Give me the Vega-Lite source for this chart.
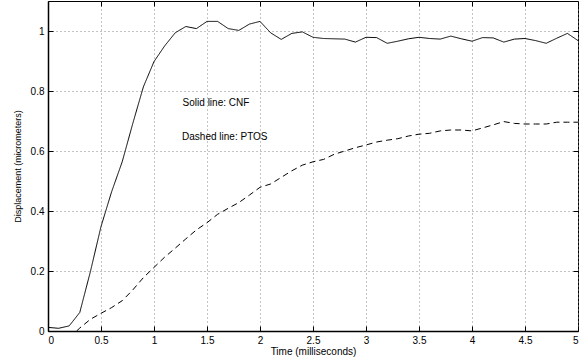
{
  "$schema": "https://vega.github.io/schema/vega-lite/v6.json",
  "width": 530,
  "height": 330,
  "autosize": {"type": "none"},
  "padding": {"left": 48, "top": 1, "right": 7, "bottom": 32},
  "background": "white",
  "config": {
    "view": {"stroke": "black", "strokeWidth": 1},
    "font": "Liberation Sans",
    "axis": {
      "labelFont": "Liberation Sans",
      "titleFont": "Liberation Sans",
      "labelFontSize": 10,
      "titleFontSize": 10,
      "titleFontWeight": "normal",
      "labelColor": "black",
      "titleColor": "black",
      "domainColor": "black",
      "domainWidth": 1.5,
      "tickColor": "black",
      "tickSize": -5,
      "tickWidth": 1,
      "labelPadding": 9,
      "gridColor": "#888888",
      "gridDash": [1, 3],
      "gridWidth": 1
    }
  },
  "datasets": {
    "curves": [
      {"t": 0.0, "d": 0.012, "series": "CNF"},
      {"t": 0.1, "d": 0.009, "series": "CNF"},
      {"t": 0.2, "d": 0.017, "series": "CNF"},
      {"t": 0.3, "d": 0.062, "series": "CNF"},
      {"t": 0.4, "d": 0.198, "series": "CNF"},
      {"t": 0.5, "d": 0.348, "series": "CNF"},
      {"t": 0.6, "d": 0.464, "series": "CNF"},
      {"t": 0.7, "d": 0.564, "series": "CNF"},
      {"t": 0.8, "d": 0.692, "series": "CNF"},
      {"t": 0.9, "d": 0.814, "series": "CNF"},
      {"t": 1.0, "d": 0.898, "series": "CNF"},
      {"t": 1.1, "d": 0.95, "series": "CNF"},
      {"t": 1.2, "d": 0.994, "series": "CNF"},
      {"t": 1.3, "d": 1.015, "series": "CNF"},
      {"t": 1.4, "d": 1.008, "series": "CNF"},
      {"t": 1.5, "d": 1.032, "series": "CNF"},
      {"t": 1.6, "d": 1.032, "series": "CNF"},
      {"t": 1.7, "d": 1.008, "series": "CNF"},
      {"t": 1.8, "d": 1.002, "series": "CNF"},
      {"t": 1.9, "d": 1.023, "series": "CNF"},
      {"t": 2.0, "d": 1.032, "series": "CNF"},
      {"t": 2.1, "d": 0.994, "series": "CNF"},
      {"t": 2.2, "d": 0.972, "series": "CNF"},
      {"t": 2.3, "d": 0.992, "series": "CNF"},
      {"t": 2.4, "d": 0.997, "series": "CNF"},
      {"t": 2.5, "d": 0.979, "series": "CNF"},
      {"t": 2.6, "d": 0.975, "series": "CNF"},
      {"t": 2.7, "d": 0.974, "series": "CNF"},
      {"t": 2.8, "d": 0.973, "series": "CNF"},
      {"t": 2.9, "d": 0.963, "series": "CNF"},
      {"t": 3.0, "d": 0.979, "series": "CNF"},
      {"t": 3.1, "d": 0.978, "series": "CNF"},
      {"t": 3.2, "d": 0.959, "series": "CNF"},
      {"t": 3.3, "d": 0.966, "series": "CNF"},
      {"t": 3.4, "d": 0.974, "series": "CNF"},
      {"t": 3.5, "d": 0.979, "series": "CNF"},
      {"t": 3.6, "d": 0.975, "series": "CNF"},
      {"t": 3.7, "d": 0.973, "series": "CNF"},
      {"t": 3.8, "d": 0.983, "series": "CNF"},
      {"t": 3.9, "d": 0.974, "series": "CNF"},
      {"t": 4.0, "d": 0.966, "series": "CNF"},
      {"t": 4.1, "d": 0.978, "series": "CNF"},
      {"t": 4.2, "d": 0.977, "series": "CNF"},
      {"t": 4.3, "d": 0.963, "series": "CNF"},
      {"t": 4.4, "d": 0.973, "series": "CNF"},
      {"t": 4.5, "d": 0.975, "series": "CNF"},
      {"t": 4.6, "d": 0.968, "series": "CNF"},
      {"t": 4.7, "d": 0.959, "series": "CNF"},
      {"t": 4.8, "d": 0.976, "series": "CNF"},
      {"t": 4.9, "d": 0.992, "series": "CNF"},
      {"t": 5.0, "d": 0.968, "series": "CNF"},
      {"t": 0.27, "d": 0.0, "series": "PTOS"},
      {"t": 0.3, "d": 0.01, "series": "PTOS"},
      {"t": 0.4, "d": 0.039, "series": "PTOS"},
      {"t": 0.5, "d": 0.059, "series": "PTOS"},
      {"t": 0.6, "d": 0.078, "series": "PTOS"},
      {"t": 0.7, "d": 0.101, "series": "PTOS"},
      {"t": 0.8, "d": 0.137, "series": "PTOS"},
      {"t": 0.9, "d": 0.178, "series": "PTOS"},
      {"t": 1.0, "d": 0.212, "series": "PTOS"},
      {"t": 1.1, "d": 0.246, "series": "PTOS"},
      {"t": 1.2, "d": 0.276, "series": "PTOS"},
      {"t": 1.3, "d": 0.307, "series": "PTOS"},
      {"t": 1.4, "d": 0.337, "series": "PTOS"},
      {"t": 1.5, "d": 0.361, "series": "PTOS"},
      {"t": 1.6, "d": 0.389, "series": "PTOS"},
      {"t": 1.7, "d": 0.409, "series": "PTOS"},
      {"t": 1.8, "d": 0.428, "series": "PTOS"},
      {"t": 1.9, "d": 0.453, "series": "PTOS"},
      {"t": 2.0, "d": 0.479, "series": "PTOS"},
      {"t": 2.1, "d": 0.49, "series": "PTOS"},
      {"t": 2.2, "d": 0.512, "series": "PTOS"},
      {"t": 2.3, "d": 0.534, "series": "PTOS"},
      {"t": 2.4, "d": 0.553, "series": "PTOS"},
      {"t": 2.5, "d": 0.564, "series": "PTOS"},
      {"t": 2.6, "d": 0.572, "series": "PTOS"},
      {"t": 2.7, "d": 0.589, "series": "PTOS"},
      {"t": 2.8, "d": 0.6, "series": "PTOS"},
      {"t": 2.9, "d": 0.611, "series": "PTOS"},
      {"t": 3.0, "d": 0.62, "series": "PTOS"},
      {"t": 3.1, "d": 0.63, "series": "PTOS"},
      {"t": 3.2, "d": 0.636, "series": "PTOS"},
      {"t": 3.3, "d": 0.641, "series": "PTOS"},
      {"t": 3.4, "d": 0.65, "series": "PTOS"},
      {"t": 3.5, "d": 0.656, "series": "PTOS"},
      {"t": 3.6, "d": 0.659, "series": "PTOS"},
      {"t": 3.7, "d": 0.667, "series": "PTOS"},
      {"t": 3.8, "d": 0.67, "series": "PTOS"},
      {"t": 3.9, "d": 0.67, "series": "PTOS"},
      {"t": 4.0, "d": 0.667, "series": "PTOS"},
      {"t": 4.1, "d": 0.677, "series": "PTOS"},
      {"t": 4.2, "d": 0.687, "series": "PTOS"},
      {"t": 4.3, "d": 0.698, "series": "PTOS"},
      {"t": 4.4, "d": 0.692, "series": "PTOS"},
      {"t": 4.5, "d": 0.69, "series": "PTOS"},
      {"t": 4.6, "d": 0.69, "series": "PTOS"},
      {"t": 4.7, "d": 0.69, "series": "PTOS"},
      {"t": 4.8, "d": 0.696, "series": "PTOS"},
      {"t": 4.9, "d": 0.696, "series": "PTOS"},
      {"t": 5.0, "d": 0.696, "series": "PTOS"}
    ],
    "notes": [
      {"t": 1.27, "d": 0.76, "label": "Solid line: CNF"},
      {"t": 1.265, "d": 0.646, "label": "Dashed line: PTOS"}
    ]
  },
  "layer": [
    {
      "data": {"name": "curves"},
      "mark": {"type": "line", "color": "black", "strokeWidth": 1, "clip": true},
      "encoding": {
        "x": {
          "field": "t", "type": "quantitative",
          "scale": {"domain": [0, 5], "nice": false, "zero": false},
          "axis": {"values": [0, 0.5, 1, 1.5, 2, 2.5, 3, 3.5, 4, 4.5, 5], "format": "~g", "title": "Time (milliseconds)", "titlePadding": 1, "grid": true}
        },
        "y": {
          "field": "d", "type": "quantitative",
          "scale": {"domain": [0, 1.1], "nice": false},
          "axis": {"values": [0, 0.2, 0.4, 0.6, 0.8, 1], "format": "~g", "title": "Displacement (micrometers)", "titlePadding": 8, "grid": true, "titleFontSize": 9}
        },
        "strokeDash": {
          "field": "series", "type": "nominal",
          "scale": {"domain": ["CNF", "PTOS"], "range": [[1, 0], [6, 4]]},
          "legend": null
        },
        "order": {"field": "t", "type": "quantitative"}
      }
    },
    {
      "data": {"name": "notes"},
      "mark": {"type": "text", "align": "left", "baseline": "middle", "fontSize": 10, "font": "Liberation Sans", "color": "black"},
      "encoding": {
        "x": {"field": "t", "type": "quantitative", "axis": {"orient": "top", "values": [0, 0.5, 1, 1.5, 2, 2.5, 3, 3.5, 4, 4.5, 5], "labels": false, "title": null, "grid": false, "domain": false}},
        "y": {"field": "d", "type": "quantitative", "axis": {"orient": "right", "values": [0, 0.2, 0.4, 0.6, 0.8, 1], "labels": false, "title": null, "grid": false, "domain": false}},
        "text": {"field": "label"}
      }
    }
  ],
  "resolve": {"axis": {"x": "independent", "y": "independent"}}
}
